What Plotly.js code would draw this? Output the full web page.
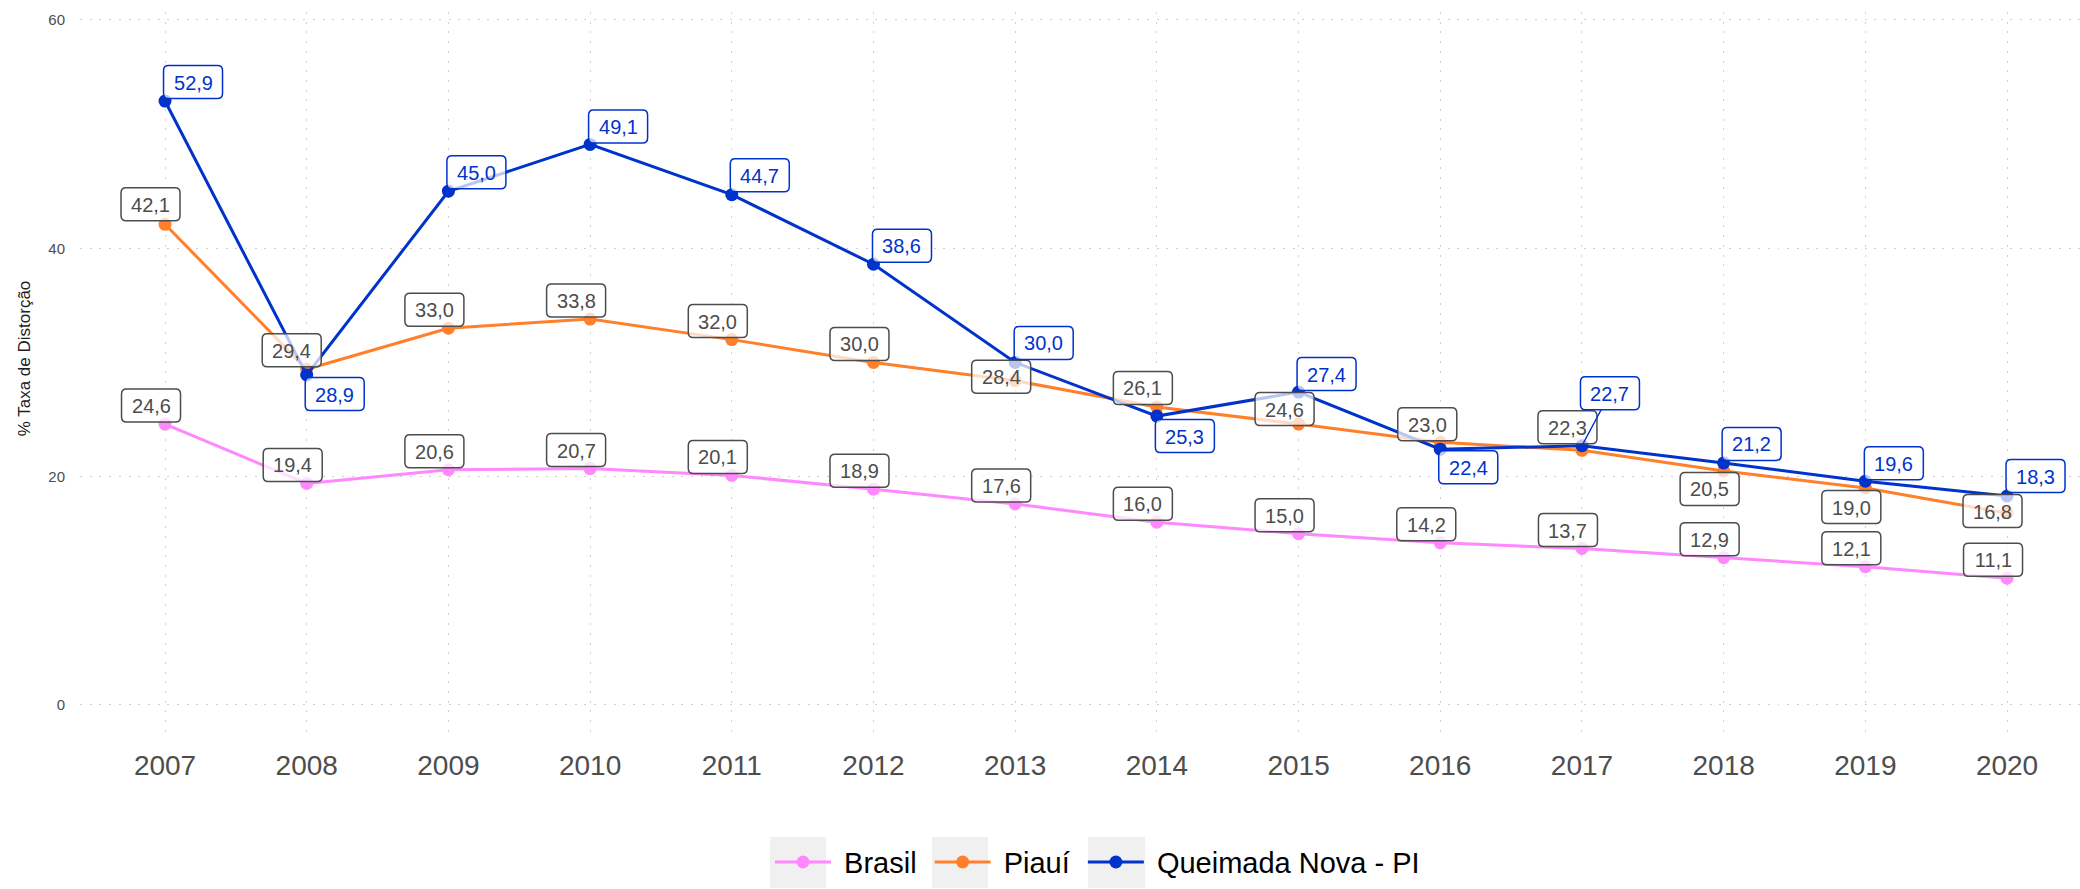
<!DOCTYPE html>
<html>
<head>
<meta charset="utf-8">
<script src="https://cdn.plot.ly/plotly-3.0.1.min.js"></script>
<style>
  html, body { margin: 0; padding: 0; background: #ffffff; }
  #chart { width: 2080px; height: 889px; }
</style>
</head>
<body>
<div id="chart"></div>
<script>
// Taxa de distorção idade-série (%), 2007–2020
const anos = [2007, 2008, 2009, 2010, 2011, 2012, 2013, 2014, 2015, 2016, 2017, 2018, 2019, 2020];
const brasil = [24.6, 19.4, 20.6, 20.7, 20.1, 18.9, 17.6, 16.0, 15.0, 14.2, 13.7, 12.9, 12.1, 11.1];
const piaui = [42.1, 29.4, 33.0, 33.8, 32.0, 30.0, 28.4, 26.1, 24.6, 23.0, 22.3, 20.5, 19.0, 16.8];
const queimadaNova = [52.9, 28.9, 45.0, 49.1, 44.7, 38.6, 30.0, 25.3, 27.4, 22.4, 22.7, 21.2, 19.6, 18.3];
const nomesSeries = ['Brasil', 'Piauí', 'Queimada Nova - PI'];
const ticksY = [0, 20, 40, 60];

// Label nudges in pixels (dx right, dy down) so the boxes do not collide
const nudgeBrasil = anos.map(() => [-14, -18.5]);
const nudgePiaui = [[-14.5, -20], [-15, -19], [-14, -18.5], [-14, -18.5], [-14, -18.5], [-14, -18.5],
  [-14, -4], [-14, -19], [-14, -15], [-13, -18], [-14.5, -23], [-14, 18], [-14, 19], [-14.5, -2]];
const nudgeQueimada = [[28, -19], [28, 19], [28, -19], [28, -18], [28, -19.5], [28.5, -18.6],
  [28.5, -19.5], [28, 20], [28, -18], [28, 18], [28, -52.5], [28, -19], [28.5, -18], [28.5, -20]];

const cores = ['#FF88FF', '#FF7F2A', '#0033CC'];
const series = [brasil, piaui, queimadaNova];
const nudges = [nudgeBrasil, nudgePiaui, nudgeQueimada];
const corTexto = ['#4D4D4D', '#4D4D4D', '#0033CC'];

const fonte = 'Liberation Sans, Arial, Helvetica, sans-serif';
const caixaW = 59, caixaH = 33, raio = 5;
const nbsp = '\u00A0';

const traces = series.map((vals, i) => ({
  type: 'scatter',
  mode: 'lines+markers',
  name: nbsp + nomesSeries[i] + nbsp,
  x: anos,
  y: vals,
  line: { color: cores[i], width: 3 },
  marker: { color: cores[i], size: 13 },
  hoverinfo: 'x+y+name'
}));

const fmt = v => v.toFixed(1).replace('.', ',');

// rounded rectangle path, pixel units relative to the anchor point (y up)
function caixaArredondada(cx, cy, w, h, r) {
  const x0 = cx - w / 2, x1 = cx + w / 2, y0 = cy - h / 2, y1 = cy + h / 2;
  return `M${x0 + r},${y0} L${x1 - r},${y0} Q${x1},${y0} ${x1},${y0 + r} ` +
    `L${x1},${y1 - r} Q${x1},${y1} ${x1 - r},${y1} L${x0 + r},${y1} ` +
    `Q${x0},${y1} ${x0},${y1 - r} L${x0},${y0 + r} Q${x0},${y0} ${x0 + r},${y0} Z`;
}

const annotations = [];
const shapes = [];
series.forEach((vals, i) => {
  vals.forEach((v, k) => {
    const [dx, dy] = nudges[i][k];
    const longe = Math.hypot(dx, dy) > 45;
    shapes.push({
      type: 'path', layer: 'above',
      xref: 'x', yref: 'y', xsizemode: 'pixel', ysizemode: 'pixel',
      xanchor: anos[k], yanchor: v,
      path: caixaArredondada(dx, -dy, caixaW, caixaH, raio),
      fillcolor: 'rgba(255,255,255,0.72)',
      line: { color: corTexto[i], width: 1.5 }
    });
    annotations.push({
      x: anos[k], y: v, xref: 'x', yref: 'y',
      text: fmt(v),
      showarrow: true, ax: dx, ay: dy,
      arrowhead: 0, arrowwidth: 1.5, standoff: 0,
      arrowcolor: longe ? cores[i] : 'rgba(0,0,0,0)',
      font: { family: fonte, size: 20, color: corTexto[i] },
      borderpad: 0, borderwidth: 0,
      width: caixaW, height: caixaH
    });
  });
});

// y-axis title
annotations.push({
  xref: 'paper', yref: 'paper',
  x: -0.028, y: 0.523, xanchor: 'center', yanchor: 'middle',
  text: '% Taxa de Distorção', textangle: -90, showarrow: false,
  font: { family: fonte, size: 17, color: '#222222' }
});

// grey key backgrounds of the legend
[[770, 826], [932, 988], [1088, 1145]].forEach(([a, b]) => {
  shapes.push({
    type: 'rect', xref: 'paper', yref: 'paper', layer: 'below',
    x0: (a - 80) / 2000, x1: (b - 80) / 2000,
    y0: (738 - 888) / 726, y1: (738 - 837) / 726,
    fillcolor: '#F0F0F0', line: { width: 0 }
  });
});

const layout = {
  width: 2080, height: 889,
  margin: { l: 80, r: 0, t: 12, b: 151 },
  paper_bgcolor: '#ffffff',
  plot_bgcolor: '#ffffff',
  font: { family: fonte, color: '#4D4D4D' },
  showlegend: true,
  xaxis: {
    range: [2006.4, 2020.515],
    tickvals: anos,
    ticktext: anos.map(String),
    tickfont: { size: 28, color: '#4D4D4D' },
    showgrid: true, gridcolor: '#CFCFCF', gridwidth: 1, griddash: '2px,7.7px',
    zeroline: false, showline: false, ticks: '',
    ticklabelstandoff: 8,
    fixedrange: true
  },
  yaxis: {
    range: [-2.9, 60.7],
    tickvals: ticksY,
    tickfont: { size: 15, color: '#4D4D4D' },
    showgrid: true, gridcolor: '#CFCFCF', gridwidth: 1, griddash: '2px,7.7px',
    zeroline: false, showline: false, ticks: '',
    ticklabelstandoff: 14,
    fixedrange: true
  },
  legend: {
    orientation: 'h',
    x: 0.345, xanchor: 'left',
    y: -0.171, yanchor: 'middle',
    font: { size: 29, color: '#000000', family: fonte },
    bgcolor: 'rgba(0,0,0,0)',
    itemwidth: 56
  },
  shapes: shapes,
  annotations: annotations
};

Plotly.newPlot('chart', traces, layout, { displayModeBar: false, staticPlot: true });
</script>
</body>
</html>
